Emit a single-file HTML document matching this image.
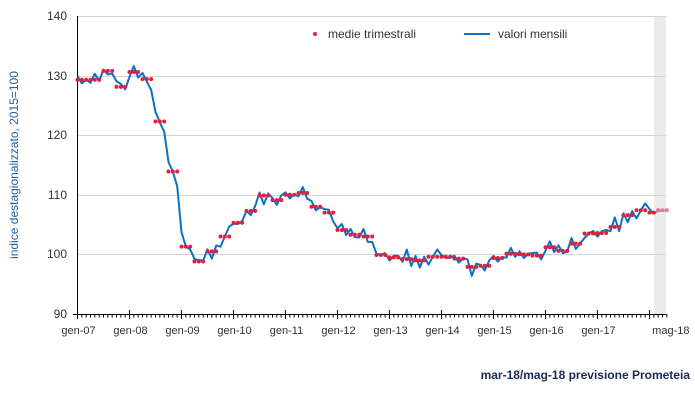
<!DOCTYPE html>
<html><head><meta charset="utf-8"><style>
body{margin:0;background:#fff;width:695px;height:404px;overflow:hidden}
svg{display:block;font-family:"Liberation Sans",sans-serif}
</style></head><body>
<svg id="s" width="695" height="404" xmlns="http://www.w3.org/2000/svg">
<rect x="654" y="16" width="12" height="298" fill="#ebebeb"/>
<g stroke="#d4d4d4" stroke-width="1">
<line x1="77" x2="666" y1="16.5" y2="16.5"/>
<line x1="77" x2="666" y1="76.5" y2="76.5"/>
<line x1="77" x2="666" y1="135.5" y2="135.5"/>
<line x1="77" x2="666" y1="195.5" y2="195.5"/>
<line x1="77" x2="666" y1="254.5" y2="254.5"/>
</g>
<g font-size="12" fill="#333" text-anchor="end">
<text x="67" y="20">140</text><text x="67" y="80">130</text><text x="67" y="139">120</text>
<text x="67" y="199">110</text><text x="67" y="258">100</text><text x="67" y="318">90</text>
</g>
<text transform="translate(18,165) rotate(-90)" font-size="12" fill="#1f5fa8" text-anchor="middle">indice destagionalizzato, 2015=100</text>
<g id="ax" stroke="#000" stroke-width="1"></g>
<g id="xl" font-size="11" fill="#333" text-anchor="middle"></g>
<g id="ser"></g>
<circle cx="315" cy="34" r="2" fill="#e0203c"/>
<text x="328" y="38" font-size="12" fill="#333">medie trimestrali</text>
<line x1="464" x2="490" y1="34" y2="34" stroke="#0a72c4" stroke-width="2"/>
<text x="498" y="38" font-size="12" fill="#333">valori mensili</text>
<text x="690" y="379" font-size="12" font-weight="bold" fill="#1a2a5a" text-anchor="end">mar-18/mag-18 previsione Prometeia</text>
</svg>
<script>
var NS="http://www.w3.org/2000/svg";
function el(p,t,a,tx){var e=document.createElementNS(NS,t);for(var k in a)e.setAttribute(k,a[k]);if(tx)e.textContent=tx;p.appendChild(e);return e;}
var X=function(m){return 77.5+m*52/12;}, Y=function(v){return 314-(v-90)*5.96;};
var ax=document.getElementById('ax');
el(ax,'line',{x1:77.5,x2:77.5,y1:16,y2:318});
el(ax,'line',{x1:73,x2:666,y1:314.5,y2:314.5});
for(var m=0;m<=136;m++){var x=X(m);if(m%12==0)el(ax,'line',{x1:x,x2:x,y1:310,y2:319});else el(ax,'line',{x1:x,x2:x,y1:314,y2:317.5});}
var xl=document.getElementById('xl');
for(var y=0;y<=10;y++)el(xl,'text',{x:X(y*12)+1,y:334},'gen-'+(y+7<10?'0':'')+(y+7));
el(xl,'text',{x:X(136)+4,y:334},'mag-18');
var q=[129.3,129.3,130.8,128.1,130.6,129.4,122.3,113.9,101.3,98.8,100.5,103,105.3,107.3,109.9,109.1,110,110.3,108,107,104.1,103.3,103,99.9,99.5,99.2,99.0,99.6,99.6,99.3,97.9,98.1,99.4,100.1,100,99.8,101.2,100.6,101.8,103.5,103.6,104.6,106.6,107.4,107.2];
var nz=[[-1.2,0,1.2],[0.5,-0.6,0.1],[-0.5,1.6,-1.1],[0.6,-0.6,0],[-0.4,0,0.4],[1,-1.5,0.5],[0.8,-0.4,-0.4],[0.3,-0.2,-0.1],[0.4,0.5,-0.9],[0.7,-1.2,0.5],[-0.5,1,-0.5],[-0.6,0.3,0.3],[0.2,-0.8,0.6],[1.2,-0.9,-0.3],[0.4,-0.7,0.3],[-0.3,1,-0.7]];
var mon=[];
for(var i=0;i<q.length*3;i++){var qi=Math.floor(i/3),k=i%3;var v=q[qi];
 var c=(k-1)/3;var nb=c<0?(qi>0?q[qi-1]:q[qi]):(qi<q.length-1?q[qi+1]:q[qi]);v+=Math.abs(c)*(nb-q[qi])*0.6;
 var amp=(qi>=6&&qi<=9)?0.15:1;v+=nz[(qi*7+3)%nz.length][k]*amp;mon.push(v);}
mon=mon.slice(0,134);mon[132]=107.6;mon[133]=106.8;
var ser=document.getElementById('ser');
var d=mon.map(function(v,i){return(i?'L':'M')+X(i).toFixed(1)+' '+Y(v).toFixed(1);}).join('');
el(ser,'path',{d:d,fill:'none',stroke:'#0a72c4','stroke-width':2,'stroke-linejoin':'round'});
el(ser,'path',{d:'M'+X(133)+' '+Y(106.8)+'L'+X(134)+' '+Y(107.3)+'L'+X(136)+' '+Y(107.4),fill:'none',stroke:'#7ab6e6','stroke-width':2});
for(var i=0;i<q.length*3&&i<135;i++){var v=i<132?q[Math.floor(i/3)]:(i<134?107.0:107.4);if(i>=132&&i<134)v=107.0;el(ser,'circle',{cx:X(i),cy:Y(v),r:2,fill:'#e0203c'});}
for(var i=134;i<=136;i++)el(ser,'circle',{cx:X(i),cy:Y(107.4),r:2,fill:'#e87890'});
</script>
</body></html>
